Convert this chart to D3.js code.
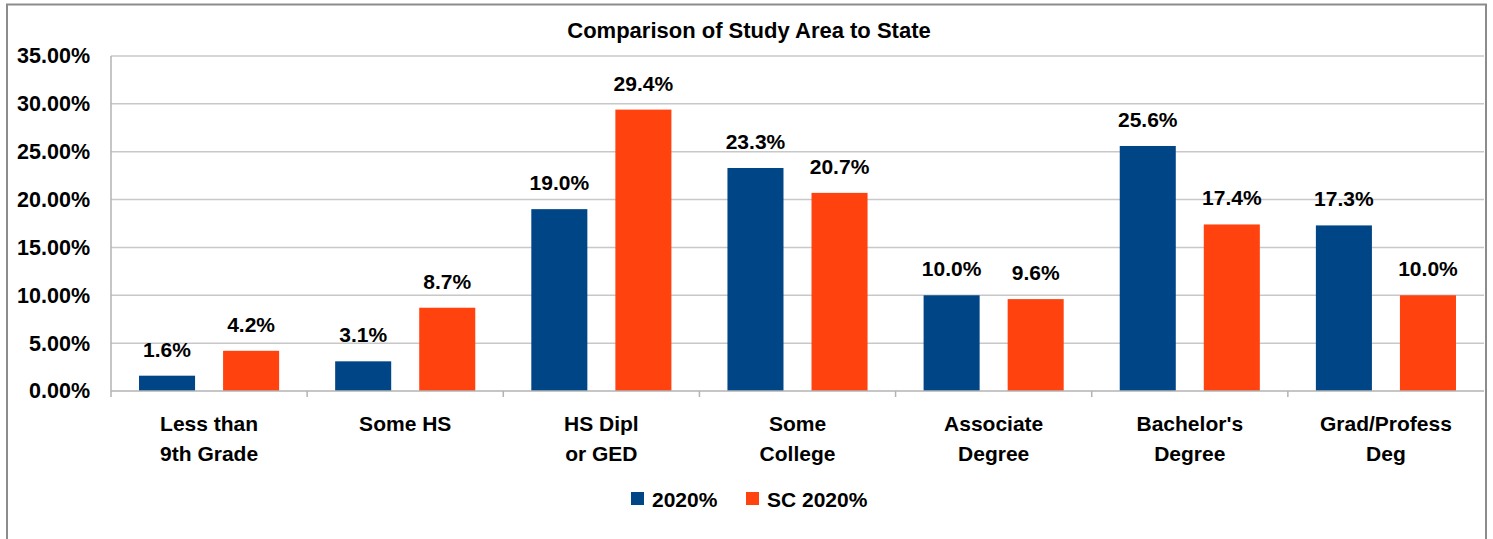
<!DOCTYPE html>
<html>
<head>
<meta charset="utf-8">
<script src="https://cdn.jsdelivr.net/npm/d3@7"></script>
<style>
  body { margin: 0; background: #fff; }
  svg text { font-family: "Liberation Sans", Arial, sans-serif; font-weight: bold; fill: #000; }
</style>
</head>
<body>
<svg id="chart" width="1493" height="539"></svg>
<script>
// categories (two-line labels) and series values in percent
var categories = ["Less than\n9th Grade", "Some HS", "HS Dipl\nor GED", "Some\nCollege", "Associate\nDegree", "Bachelor's\nDegree", "Grad/Profess\nDeg"];
var studyArea = [1.6, 3.1, 19.0, 23.3, 10.0, 25.6, 17.3];
var stateSC = [4.2, 8.7, 29.4, 20.7, 9.6, 17.4, 10.0];
var seriesNames = ["2020%", "SC 2020%"];
var seriesColors = ["#004586", "#ff420e"];
var yTicks = [0, 5, 10, 15, 20, 25, 30, 35];

var svg = d3.select("#chart");

// outer frame of the chart
svg.append("rect")
    .attr("x", 7).attr("y", 4.5)
    .attr("width", 1479).attr("height", 560)
    .attr("fill", "none").attr("stroke", "#8c8c8c").attr("stroke-width", 2);

svg.append("text")
    .attr("x", 749).attr("y", 38)
    .attr("text-anchor", "middle")
    .style("font-size", "22px")
    .text("Comparison of Study Area to State");

var x = d3.scaleBand().domain(categories).range([111, 1484]).padding(0);
var xs = d3.scaleBand().domain([0, 1]).range([0, x.bandwidth()])
    .paddingInner(1 / 3).paddingOuter(1 / 3);
var y = d3.scaleLinear().domain([0, 35]).range([391, 56]);

// gridlines
svg.append("g").selectAll("line")
    .data(yTicks.slice(1))
    .join("line")
    .attr("x1", 111).attr("x2", 1484)
    .attr("y1", d => y(d)).attr("y2", d => y(d))
    .attr("stroke", "#c8c8c8").attr("stroke-width", 1.5);

// y axis
var yAxis = d3.axisLeft(y).tickValues(yTicks)
    .tickFormat(d => d.toFixed(2) + "%").tickSize(0).tickPadding(21);
var gy = svg.append("g").attr("transform", "translate(111,0)").call(yAxis);
gy.select(".domain").remove();
gy.selectAll("text").style("font-size", "21.5px").attr("fill", "#000");
svg.append("line")
    .attr("x1", 111).attr("x2", 111).attr("y1", 56).attr("y2", 397)
    .attr("stroke", "#b3b3b3").attr("stroke-width", 1.5);

// bars
var rows = categories.map((c, i) => ({ cat: c, vals: [studyArea[i], stateSC[i]] }));
var groups = svg.append("g").selectAll("g")
    .data(rows)
    .join("g")
    .attr("transform", d => "translate(" + x(d.cat) + ",0)");

groups.selectAll("rect")
    .data(d => d.vals.map((v, k) => ({ k: k, v: v })))
    .join("rect")
    .attr("x", d => xs(d.k))
    .attr("width", xs.bandwidth())
    .attr("y", d => y(d.v))
    .attr("height", d => y(0) - y(d.v))
    .attr("fill", d => seriesColors[d.k]);

groups.selectAll("text.val")
    .data(d => d.vals.map((v, k) => ({ k: k, v: v })))
    .join("text")
    .attr("class", "val")
    .attr("x", d => xs(d.k) + xs.bandwidth() / 2)
    .attr("y", d => y(d.v) - 19)
    .attr("text-anchor", "middle")
    .style("font-size", "21px")
    .text(d => d.v.toFixed(1) + "%");

// x axis line and category ticks
svg.append("line")
    .attr("x1", 111).attr("x2", 1484).attr("y1", 391).attr("y2", 391)
    .attr("stroke", "#b3b3b3").attr("stroke-width", 1.5);
svg.append("g").selectAll("line")
    .data(categories.slice(1))
    .join("line")
    .attr("x1", d => x(d)).attr("x2", d => x(d))
    .attr("y1", 391).attr("y2", 397)
    .attr("stroke", "#b3b3b3").attr("stroke-width", 1.5);

// category labels
svg.append("g").selectAll("text")
    .data(categories)
    .join("text")
    .attr("text-anchor", "middle")
    .style("font-size", "21px")
    .attr("transform", d => "translate(" + (x(d) + x.bandwidth() / 2) + ",0)")
    .each(function (d) {
        d3.select(this).selectAll("tspan")
            .data(d.split("\n"))
            .join("tspan")
            .attr("x", 0)
            .attr("y", (t, i) => 431 + i * 30)
            .text(t => t);
    });

// legend
var legendX = [631, 746];
var legend = svg.append("g").selectAll("g")
    .data(seriesNames)
    .join("g")
    .attr("transform", (d, i) => "translate(" + legendX[i] + ",492)");
legend.append("rect")
    .attr("width", 13).attr("height", 13)
    .attr("fill", (d, i) => seriesColors[i]);
legend.append("text")
    .attr("x", 21).attr("y", 14.5)
    .style("font-size", "21px")
    .text(d => d);
</script>
</body>
</html>
